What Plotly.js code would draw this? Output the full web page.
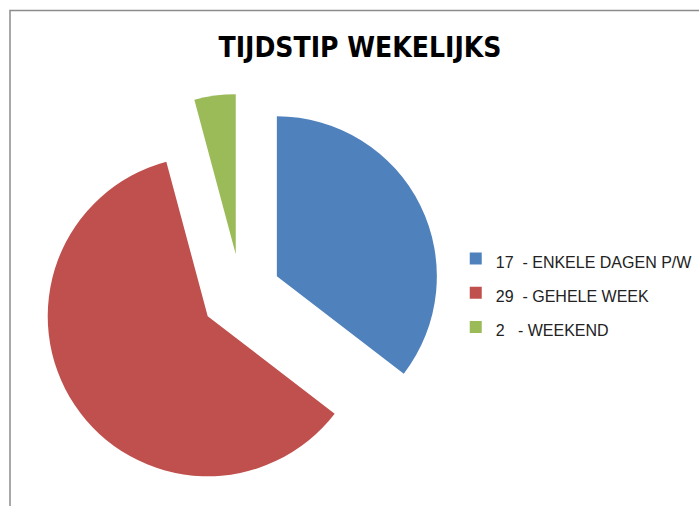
<!DOCTYPE html>
<html>
<head>
<meta charset="utf-8">
<script src="https://cdn.plot.ly/plotly-3.0.1.min.js"></script>
<style>html,body{margin:0;padding:0;background:#fff;}#chart{width:699px;height:506px;}</style>
</head>
<body>
<div id="chart"></div>
<script>
const categories = ["ENKELE DAGEN P/W", "GEHELE WEEK", "WEEKEND"];
const counts = [17, 29, 2];
const legendLabels = ["17  - ENKELE DAGEN P/W", "29  - GEHELE WEEK", "2   - WEEKEND"];
const colors = ["#4F81BD", "#C0504D", "#9BBB59"];

const trace = {
  type: "pie",
  values: counts,
  labels: legendLabels.map(s => '<span style="font-size:16px">' + s.replace(/ /g, "\u00a0") + '</span>'),
  marker: {colors: colors},
  sort: false,
  direction: "clockwise",
  rotation: 0,
  pull: 0.25,
  textinfo: "none",
  hoverinfo: "none",
  domain: {x: [0.0586, 0.6309], y: [0.0237, 0.8142]}
};

const layout = {
  width: 699, height: 506,
  margin: {l: 0, r: 0, t: 0, b: 0},
  paper_bgcolor: "#ffffff",
  title: {
    text: "<b>TIJDSTIP WEKELIJKS</b>",
    font: {family: "Liberation Sans Narrow, DejaVu Sans Condensed, Arial", size: 28, color: "#000"},
    x: 0.515, xanchor: "center", y: 0.907, yanchor: "middle", yref: "paper"
  },
  showlegend: true,
  legend: {
    x: 0.652, xanchor: "left", y: 0.421, yanchor: "middle",
    font: {family: "Liberation Sans, Arial", size: 24, color: "#222"},
    itemwidth: 30, bgcolor: "rgba(0,0,0,0)"
  },
  shapes: [{
    type: "rect", xref: "paper", yref: "paper",
    x0: 10/699, x1: 1.05, y0: -0.05, y1: 1 - 10.5/506,
    line: {color: "#8c8c8c", width: 1.5}
  }]
};

Plotly.newPlot("chart", [trace], layout, {displayModeBar: false, staticPlot: true});
</script>
</body>
</html>
